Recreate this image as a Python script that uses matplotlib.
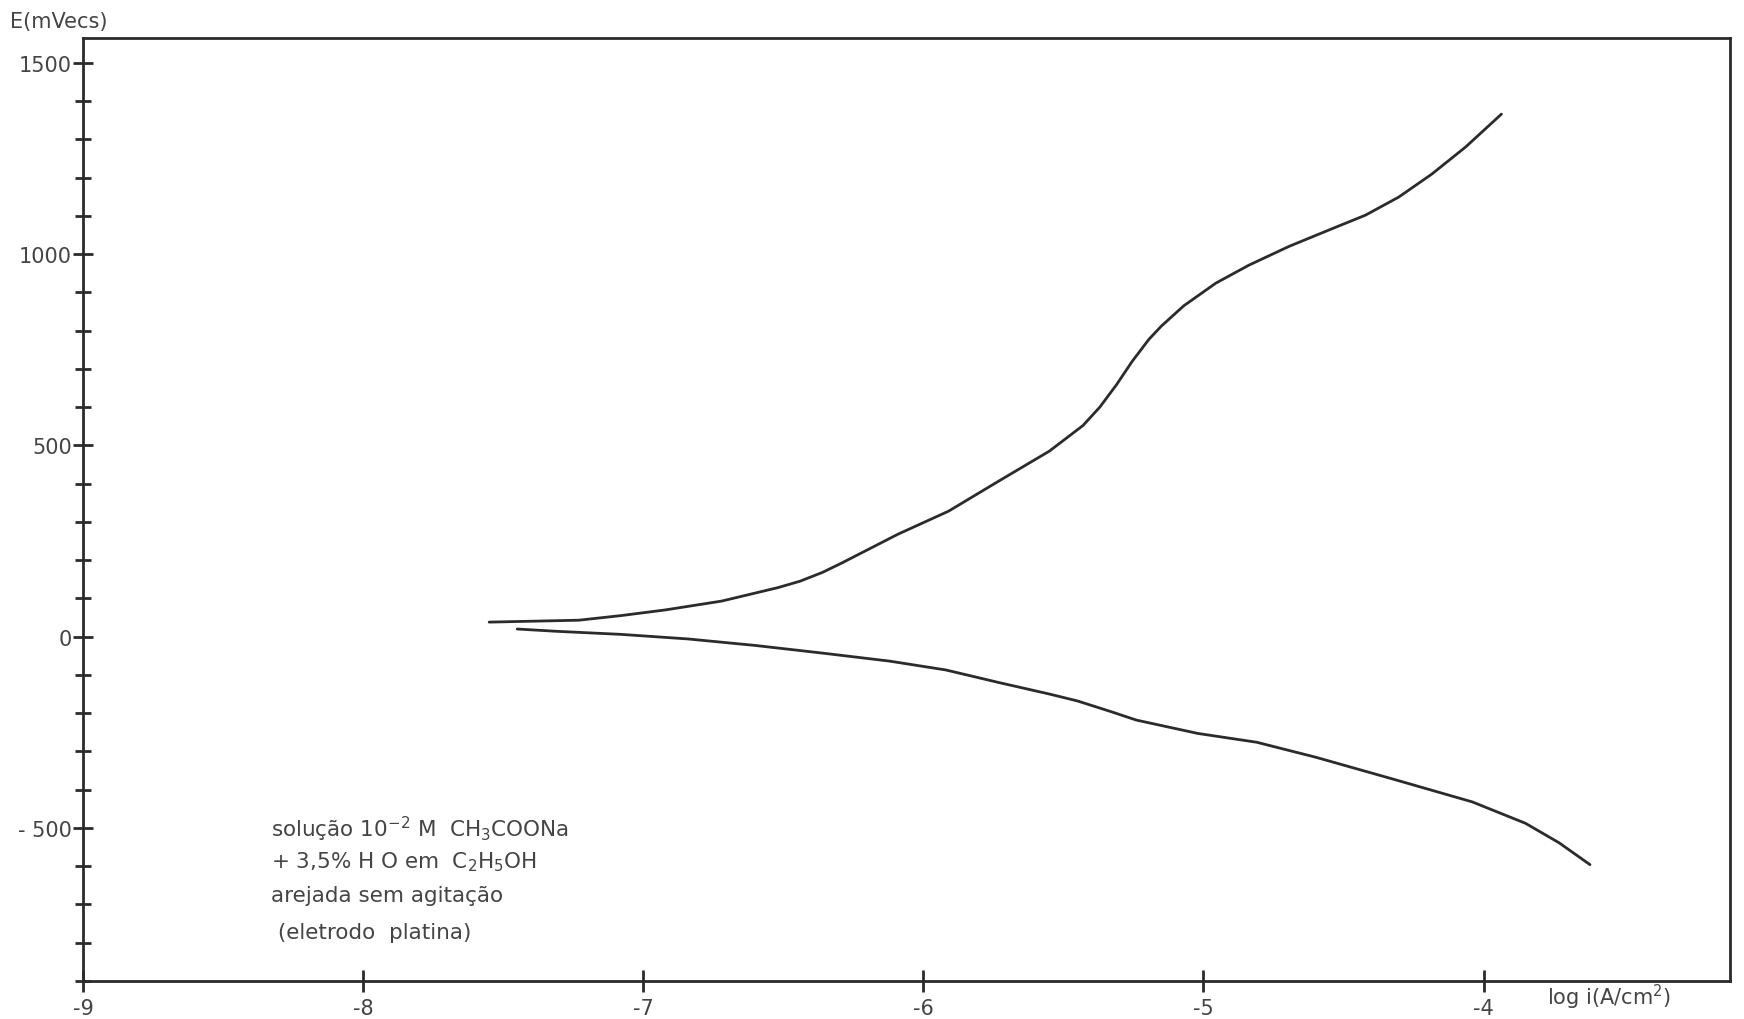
import matplotlib
matplotlib.use("Agg")
import matplotlib.pyplot as plt
from matplotlib.ticker import MultipleLocator

# anodic branch (log i, E mV)
anod_logi = [-7.55, -7.23, -7.08, -6.92, -6.72, -6.52, -6.44, -6.36, -6.29, -6.09, -5.91,
             -5.73, -5.55, -5.43, -5.37, -5.31, -5.255, -5.195, -5.15, -5.07, -4.956,
             -4.838, -4.695, -4.542, -4.421, -4.303, -4.185, -4.064, -3.936]
anod_E = [38, 43, 55, 70, 93, 128, 145, 168, 193, 268, 328,
          407, 485, 552, 600, 659, 719, 777, 812, 865, 924,
          971, 1020, 1066, 1102, 1149, 1209, 1280, 1366]

# cathodic branch
cat_logi = [-7.45, -7.31, -7.08, -6.84, -6.60, -6.36, -6.12, -5.92, -5.73, -5.55, -5.45,
            -5.33, -5.24, -5.02, -4.81, -4.60, -4.32, -4.04, -3.85, -3.73, -3.62]
cat_E = [20, 14, 6, -6, -23, -43, -64, -87, -120, -150, -168,
         -196, -218, -253, -276, -315, -373, -432, -488, -539, -596]

x_ticks = [-9, -8, -7, -6, -5, -4]
y_ticks = [-500, 0, 500, 1000, 1500]
y_labels = ["- 500", "0", "500", "1000", "1500"]

note_lines = [r"solução $10^{-2}$ M  CH$_3$COONa",
              r"+ 3,5% H O em  C$_2$H$_5$OH",
              "arejada sem agitação",
              " (eletrodo  platina)"]

ink = "#2b2b2b"
txt = "#444444"

fig = plt.figure(figsize=(17.44, 10.2), dpi=100)
ax = fig.add_axes([0.0476, 0.0373, 0.9444, 0.9245])

ax.plot(anod_logi, anod_E, color=ink, lw=2, solid_joinstyle="round", solid_capstyle="round")
ax.plot(cat_logi, cat_E, color=ink, lw=2, solid_joinstyle="round", solid_capstyle="round")

ax.set_xlim(-9, -3.12)
ax.set_ylim(-900, 1565)

for s in ax.spines.values():
    s.set_linewidth(2)
    s.set_color(ink)

ax.set_xticks(x_ticks)
ax.set_xticklabels([str(v) for v in x_ticks])
ax.set_yticks(y_ticks)
ax.set_yticklabels(y_labels)
ax.yaxis.set_minor_locator(MultipleLocator(100))
ax.tick_params(axis="both", which="both", direction="inout", color=ink, width=2,
               labelcolor=txt, labelsize=15)
ax.tick_params(axis="x", which="major", length=16, pad=4)
ax.tick_params(axis="y", which="major", length=14, pad=1)
ax.tick_params(axis="y", which="minor", length=12)

fig.text(0.006, 0.978, "E(mVecs)", color=txt, fontsize=15, ha="left", va="center")
fig.text(0.887, 0.022, r"log i(A/cm$^2$)", color=txt, fontsize=15, ha="left", va="center")

note_y = [-501, -588, -675, -771]
for line, yy in zip(note_lines, note_y):
    ax.text(-8.33, yy, line, color=txt, fontsize=15.5, ha="left", va="center")

fig.savefig("out.png", dpi=100)
